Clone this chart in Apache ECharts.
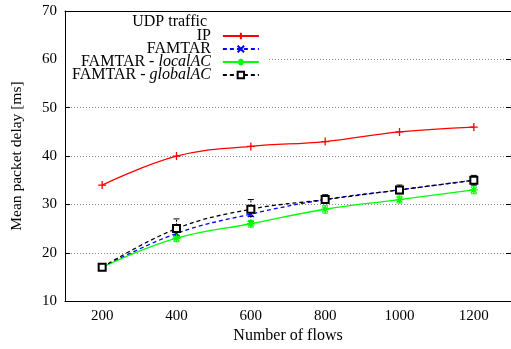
<!DOCTYPE html>
<html>
<head>
<meta charset="utf-8">
<script src="https://cdn.jsdelivr.net/npm/echarts@6/dist/echarts.min.js"></script>
<style>
  html, body { margin: 0; padding: 0; background: #fff; }
  #chart { width: 511px; height: 349px; }
</style>
</head>
<body>
<div id="chart"></div>
<script>
  // number of flows
  const flows = ['200', '400', '600', '800', '1000', '1200'];

  // mean packet delay [ms]
  const ipDelay = [34, 40, 42, 43, 45, 46];
  const famtarDelay = [17, 24, 28, 31, 33, 35];
  const localDelay = [17, 23, 26, 29, 31, 33];
  const globalDelay = [17, 25, 29, 31, 33, 35];

  // error bars (low / high)
  const famtarLow = [17, 23, 26.5, 30.3, 32.3, 34.3];
  const famtarHigh = [17, 25, 29.5, 31.7, 33.7, 35.7];
  const localLow = [16.8, 22.3, 25.3, 28.2, 30.3, 32.2];
  const localHigh = [17.2, 23.7, 26.7, 29.8, 31.7, 33.8];
  const globalLow = [17, 23.5, 27.5, 30.3, 32.2, 34];
  const globalHigh = [17, 27, 31, 32, 34, 36];

  const yTicks = [10, 20, 30, 40, 50, 60, 70];

  const font = 'Liberation Serif';

  const chart = echarts.init(document.getElementById('chart'));

  // 误差线
  function errorSeries(low, high, color, dashed) {
    return {
      type: 'custom',
      z: 3,
      silent: true,
      data: low.map((v, i) => [i, v, high[i]]),
      renderItem(params, api) {
        const lo = api.coord([api.value(0), api.value(1)]);
        const hi = api.coord([api.value(0), api.value(2)]);
        const w = 3;
        const style = {stroke: color, lineWidth: 1, lineDash: dashed ? [2, 1.5] : null};
        return {
          type: 'group',
          children: [
            {type: 'line', shape: {x1: lo[0], y1: lo[1], x2: hi[0], y2: hi[1]}, style},
            {type: 'line', shape: {x1: lo[0] - w, y1: lo[1], x2: lo[0] + w, y2: lo[1]}, style: {stroke: color, lineWidth: 1}},
            {type: 'line', shape: {x1: hi[0] - w, y1: hi[1], x2: hi[0] + w, y2: hi[1]}, style: {stroke: color, lineWidth: 1}}
          ]
        };
      }
    };
  }

  function lineSeries(name, data, color, symbol, dashed, size) {
    return {
      name,
      type: 'line',
      data,
      smooth: 0.4,
      z: 4,
      symbol,
      symbolSize: size,
      showAllSymbol: true,
      lineStyle: {color, width: 1.3, type: dashed ? [4, 3] : 'solid'},
      itemStyle: {color, borderColor: color, borderWidth: 1.3},
      emphasis: {disabled: true}
    };
  }

  const axisText = {color: '#000', fontFamily: font, fontSize: 15};

  chart.setOption({
    backgroundColor: '#fff',
    animation: false,

    grid: {
      left: 65,
      right: 0,
      top: 11,
      bottom: 45
    },

    graphic: [{
      type: 'text',
      x: 207,
      y: 22,
      z: 100,
      style: {
        text: 'UDP traffic',
        align: 'right',
        verticalAlign: 'middle',
        fontFamily: font,
        fontSize: 16,
        fill: '#000'
      }
    }],

    legend: {
      orient: 'vertical',
      align: 'right',
      left: 66,
      top: 27,
      padding: [1, 8, 5, 6],
      backgroundColor: '#fff',
      itemWidth: 36,
      itemHeight: 8,
      itemGap: -3,
      selectedMode: false,
      data: ['IP', 'FAMTAR', 'FAMTAR - localAC', 'FAMTAR - globalAC'],
      formatter(name) {
        if (name === 'FAMTAR - localAC') return '{n|FAMTAR - }{i|localAC}';
        if (name === 'FAMTAR - globalAC') return '{n|FAMTAR - }{i|globalAC}';
        return '{n|' + name + '}{p|}';
      },
      textStyle: {
        color: '#000',
        fontFamily: font,
        fontSize: 16,
        rich: {
          n: {fontFamily: font, fontSize: 16, color: '#000'},
          i: {fontFamily: font, fontSize: 16, color: '#000', fontStyle: 'italic', padding: [0, 7, 0, 0]},
          p: {padding: [0, 7, 0, 0]}
        }
      }
    },

    xAxis: [{
      type: 'category',
      data: flows,
      boundaryGap: true,
      name: 'Number of flows',
      nameLocation: 'middle',
      nameGap: 24,
      nameTextStyle: {color: '#000', fontFamily: font, fontSize: 16},
      axisLine: {lineStyle: {color: '#000', width: 1}},
      axisTick: {inside: true, alignWithLabel: true, length: 5, lineStyle: {color: '#000'}},
      axisLabel: Object.assign({margin: 7}, axisText),
      splitLine: {show: false}
    }, {
      type: 'category',
      data: flows,
      position: 'top',
      boundaryGap: true,
      axisLine: {lineStyle: {color: '#000', width: 1}},
      axisTick: {inside: true, alignWithLabel: true, length: 5, lineStyle: {color: '#000'}},
      axisLabel: {show: false},
      splitLine: {show: false}
    }],

    yAxis: [{
      type: 'value',
      min: yTicks[0],
      max: yTicks[yTicks.length - 1],
      interval: 10,
      name: 'Mean packet delay [ms]',
      nameLocation: 'middle',
      nameGap: 40,
      nameTextStyle: {color: '#000', fontFamily: font, fontSize: 15.5},
      axisLine: {show: true, lineStyle: {color: '#000', width: 1}},
      axisTick: {show: true, inside: true, length: 5, lineStyle: {color: '#000'}},
      axisLabel: Object.assign({margin: 8}, axisText),
      splitLine: {show: true, lineStyle: {color: '#888', width: 1, type: [1, 2]}}
    }, {
      type: 'value',
      position: 'right',
      min: yTicks[0],
      max: yTicks[yTicks.length - 1],
      interval: 10,
      axisLine: {show: true, lineStyle: {color: '#000', width: 1}},
      axisTick: {show: true, inside: true, length: 5, lineStyle: {color: '#000'}},
      axisLabel: {show: false},
      splitLine: {show: false}
    }],

    series: [
      lineSeries('IP', ipDelay, '#ff0000', 'path://M0,5L10,5M5,0L5,10', false, 8),
      lineSeries('FAMTAR', famtarDelay, '#0000ff', 'path://M0,0L10,10M10,0L0,10', true, 6),
      lineSeries('FAMTAR - localAC', localDelay, '#00ff00', 'path://M0,5L10,5M5,0L5,10M1.5,1.5L8.5,8.5M8.5,1.5L1.5,8.5', false, 8),
      lineSeries('FAMTAR - globalAC', globalDelay, '#000000', 'emptyRect', true, 7),
      errorSeries(famtarLow, famtarHigh, '#0000ff', true),
      errorSeries(localLow, localHigh, '#00ff00', false),
      errorSeries(globalLow, globalHigh, '#000000', true)
    ]
  });
</script>
</body>
</html>
